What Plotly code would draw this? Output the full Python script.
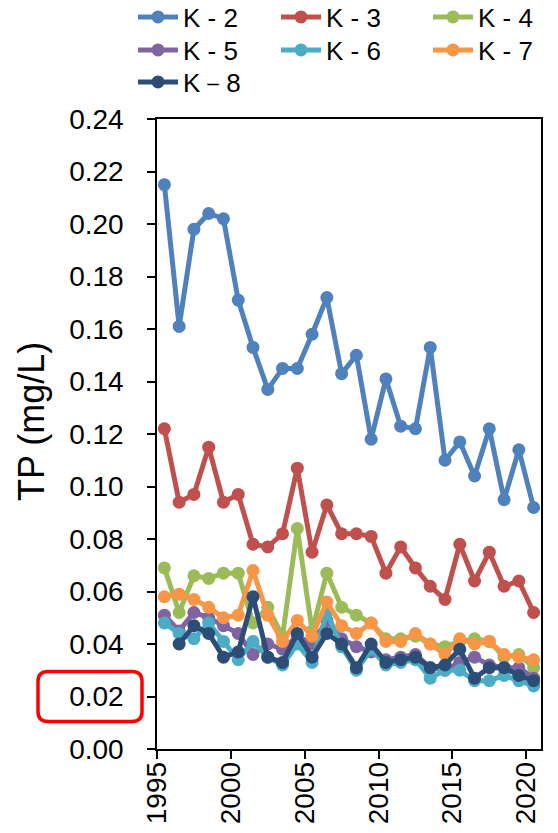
import plotly.graph_objects as go

# Annual mean total phosphorus at each station, 1995-2020
years = list(range(1995, 2021))

k2 = [0.215, 0.161, 0.198, 0.204, 0.202, 0.171, 0.153, 0.137, 0.145, 0.145, 0.158, 0.172, 0.143,
      0.150, 0.118, 0.141, 0.123, 0.122, 0.153, 0.110, 0.117, 0.104, 0.122, 0.095, 0.114, 0.092]
k3 = [0.122, 0.094, 0.097, 0.115, 0.094, 0.097, 0.078, 0.077, 0.082, 0.107, 0.075, 0.093, 0.082,
      0.082, 0.081, 0.067, 0.077, 0.069, 0.062, 0.057, 0.078, 0.064, 0.075, 0.062, 0.064, 0.052]
k4 = [0.069, 0.052, 0.066, 0.065, 0.067, 0.067, 0.048, 0.054, 0.043, 0.084, 0.045, 0.067, 0.054,
      0.051, 0.048, 0.042, 0.042, 0.043, 0.040, 0.039, 0.041, 0.042, 0.041, 0.035, 0.036, 0.031]
k5 = [0.051, 0.045, 0.052, 0.050, 0.047, 0.044, 0.036, 0.040, 0.038, 0.043, 0.040, 0.049, 0.042,
      0.039, 0.037, 0.034, 0.035, 0.036, 0.031, 0.030, 0.033, 0.035, 0.032, 0.031, 0.031, 0.027]
k6 = [0.048, 0.044, 0.042, 0.048, 0.041, 0.034, 0.041, 0.035, 0.032, 0.040, 0.033, 0.052, 0.039,
      0.030, 0.038, 0.032, 0.033, 0.034, 0.027, 0.030, 0.030, 0.026, 0.026, 0.028, 0.026, 0.024]
k7 = [0.058, 0.059, 0.057, 0.054, 0.050, 0.051, 0.068, 0.051, 0.041, 0.049, 0.043, 0.056, 0.047,
      0.044, 0.048, 0.041, 0.041, 0.044, 0.040, 0.036, 0.042, 0.040, 0.041, 0.036, 0.035, 0.034]
k8 = [None, 0.040, 0.047, 0.044, 0.035, 0.037, 0.058, 0.035, 0.033, 0.044, 0.035, 0.044, 0.040,
      0.031, 0.040, 0.033, 0.034, 0.035, 0.031, 0.032, 0.038, 0.027, 0.031, 0.031, 0.028, 0.026]

series_names = ["K - 2", "K - 3", "K - 4", "K - 5", "K - 6", "K - 7", "K－8"]
series_values = [k2, k3, k4, k5, k6, k7, k8]
series_colors = ["#4F81BD", "#C0504D", "#9BBB59", "#8064A2", "#4BACC6", "#F79646", "#2C4D75"]

y_ticks = [round(0.02 * i, 2) for i in range(13)]
x_ticks = [1995, 2000, 2005, 2010, 2015, 2020]

FONT = "Liberation Sans, Arial, sans-serif"
W, H = 558, 833
ml, mr, mt, mb = 157, 17, 119, 84
pw, ph = W - ml - mr, H - mt - mb

# each annual value sits in the middle of its year
x_mid = [y + 0.5 for y in years]

# legend grid: three columns filled row by row, one legend box per entry
col_left_px = [133, 276, 428]
row_mid_px = [17, 50, 82]

fig = go.Figure()
legend_layouts = {}
for i, (name, vals, col) in enumerate(zip(series_names, series_values, series_colors)):
    lid = "legend" if i == 0 else f"legend{i + 1}"
    fig.add_trace(go.Scatter(
        x=x_mid, y=vals, name=name, mode="lines+markers",
        line=dict(color=col, width=5),
        marker=dict(color=col, size=13),
        legend=lid,
    ))
    legend_layouts[lid] = dict(
        xref="container", yref="container", xanchor="left", yanchor="middle",
        x=col_left_px[i % 3] / W, y=1 - row_mid_px[i // 3] / H,
        orientation="v", font=dict(family=FONT, size=26, color="black"),
        bgcolor="rgba(0,0,0,0)", borderwidth=0, itemwidth=40,
    )

axis_common = dict(
    showline=True, linecolor="black", linewidth=1.5, mirror=True,
    showgrid=False, zeroline=False, ticks="outside", ticklen=8,
    tickcolor="black", tickwidth=1.5, automargin=False,
    tickfont=dict(family=FONT, size=28, color="black"),
)

fig.update_xaxes(
    range=[1995, 2021], tickvals=x_ticks, ticktext=[str(t) for t in x_ticks],
    tickangle=-90, ticklabelstandoff=-8, **axis_common,
)
fig.update_yaxes(
    range=[0, 0.24], tickvals=y_ticks, ticktext=[f"{t:.2f}" for t in y_ticks],
    ticklabelstandoff=18, **axis_common,
)

# vertical axis title
fig.add_annotation(
    text="TP (mg/L)", textangle=-90, showarrow=False,
    xref="paper", yref="paper", x=(31 - ml) / pw, y=(H - mb - 422) / ph,
    xanchor="center", yanchor="middle",
    font=dict(family=FONT, size=36, color="black"),
)

# rounded highlight frame around the 0.02 tick label
hl_val = 0.02
px_left, px_right = 38, 142
half_h_px, rad_px = 25, 10
xa = (px_left - ml) / pw
xb = (px_right - ml) / pw
rx = rad_px / pw
ry = rad_px / ph * 0.24
yb = hl_val - half_h_px / ph * 0.24
yt = hl_val + half_h_px / ph * 0.24
path = (
    f"M {xa + rx},{yt} L {xb - rx},{yt} Q {xb},{yt} {xb},{yt - ry} "
    f"L {xb},{yb + ry} Q {xb},{yb} {xb - rx},{yb} "
    f"L {xa + rx},{yb} Q {xa},{yb} {xa},{yb + ry} "
    f"L {xa},{yt - ry} Q {xa},{yt} {xa + rx},{yt} Z"
)
fig.add_shape(type="path", xref="paper", yref="y", path=path,
              line=dict(color="#FF0000", width=3.5), layer="above")

fig.update_layout(
    width=W, height=H,
    margin=dict(l=ml, r=mr, t=mt, b=mb, autoexpand=False),
    paper_bgcolor="white", plot_bgcolor="white",
    font=dict(family=FONT, color="black"),
    showlegend=True,
    **legend_layouts,
)

fig.write_html("out.html")
